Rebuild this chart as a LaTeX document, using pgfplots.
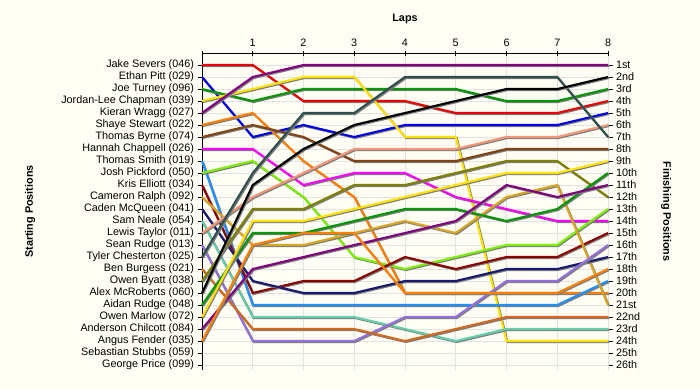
\documentclass[border=0pt]{standalone}
\usepackage{pgfplots}
\pgfplotsset{compat=1.18}
\usepackage{pgfplotstable}
\usepackage{fontspec}
\setmainfont{Liberation Sans}
\definecolor{bg}{RGB}{255,254,244}
\definecolor{gridc}{RGB}{226,226,226}
\definecolor{shadowc}{RGB}{125,125,125}
\definecolor{c1}{RGB}{235,0,0}
\definecolor{c2}{RGB}{0,0,230}
\definecolor{c3}{RGB}{0,150,0}
\definecolor{c4}{RGB}{255,226,0}
\definecolor{c5}{RGB}{128,0,128}
\definecolor{c6}{RGB}{255,128,0}
\definecolor{c7}{RGB}{130,66,18}
\definecolor{c8}{RGB}{255,0,255}
\definecolor{c9}{RGB}{30,144,255}
\definecolor{c10}{RGB}{124,240,0}
\definecolor{c11}{RGB}{139,0,0}
\definecolor{c12}{RGB}{218,165,32}
\definecolor{c13}{RGB}{25,25,112}
\definecolor{c14}{RGB}{102,205,170}
\definecolor{c15}{RGB}{245,150,120}
\definecolor{c16}{RGB}{147,112,219}
\definecolor{c17}{RGB}{47,79,79}
\definecolor{c18}{RGB}{210,105,30}
\definecolor{c19}{RGB}{128,128,0}
\definecolor{c20}{RGB}{0,0,0}

\pgfplotstableread{
lap r1 r2 r3 r4 r5 r6 r7 r8 r9 r10 r11 r12 r13 r14 r15 r16 r17 r18 r19 r20 r21 r22 r23 r24
0 1 2 3 4 5 6 7 8 9 10 11 12 13 14 15 16 17 18 19 20 21 22 23 24
1 1 7 4 3 2 5 6 8 21 9 20 16 19 22 12 24 10 23 13 11 15 14 18 16
2 4 6 3 2 1 9 7 11 21 12 19 16 20 22 10 24 5 23 13 8 15 14 17 15
3 4 7 3 2 1 12 9 10 21 17 19 15 20 22 8 24 5 23 11 6 14 13 16 15
4 4 6 3 7 1 20 9 10 21 18 17 14 19 23 8 22 2 24 11 5 13 12 15 20
5 5 6 3 7 1 20 9 12 21 17 18 15 19 24 8 22 2 23 10 4 13 11 14 20
6 5 6 4 24 1 20 8 13 21 16 17 12 18 23 7 19 2 22 9 3 14 10 11 20
7 5 6 4 24 1 20 8 14 21 16 17 11 18 23 7 19 2 22 9 3 13 10 12 20
8 4 5 3 24 1 20 8 14 19 13 15 21 17 23 6 16 7 22 12 2 10 9 11 18
}\laps

\newcommand{\rider}[2]{%
  \addplot[shadowc, line width=2.1pt, xshift=1pt, yshift=-1pt] table[x=lap,y=#1]{\laps};
  \addplot[#2, line width=2.1pt] table[x=lap,y=#1]{\laps};
}

\newcommand{\lblfont}{\fontsize{10.8}{12}\selectfont\bfseries}

\pgfplotsset{
  lapbase/.style={
    scale only axis, width=406pt, height=316.8pt,
    xmin=0, xmax=8, ymin=0, ymax=26.4, y dir=reverse,
    at={(202pt,-53pt)}, anchor=north west,
    tick label style={font=\fontsize{10.8}{12}\selectfont, black},
    major tick length=4.5pt, tick style={black, line width=0.8pt},
    axis line style={black, line width=0.9pt},
    clip=false,
  }
}

\begin{document}
\begin{tikzpicture}
\path[use as bounding box, fill=bg] (0,0) rectangle (700pt,-390pt);
% right axis with finishing positions
\begin{axis}[lapbase,
  axis x line=none, axis y line*=right, tick align=outside,
  ytick={1,...,26},
  yticklabels={1st,2nd,3rd,4th,5th,6th,7th,8th,9th,10th,11th,12th,13th,14th,15th,16th,17th,18th,19th,20th,21st,22nd,23rd,24th,25th,26th},
  ylabel={Finishing Positions},
  every axis y label/.style={at={(axis description cs:1.143,0.5)}, rotate=-90, anchor=center, font=\lblfont},
]
\addplot[draw=none] coordinates {(0,1)};
\end{axis}
% main axis
\begin{axis}[lapbase,
  axis x line*=top, axis y line*=left, tick align=outside,
  xtick={0,...,8}, xticklabels={,1,2,3,4,5,6,7,8},
  x tick style={yshift=-2.5pt},
  x tick label style={yshift=-2pt},
  ytick={1,...,26},
  yticklabels={Jake Severs (046),Ethan Pitt (029),Joe Turney (096),Jordan-Lee Chapman (039),Kieran Wragg (027),Shaye Stewart (022),Thomas Byrne (074),Hannah Chappell (026),Thomas Smith (019),Josh Pickford (050),Kris Elliott (034),Cameron Ralph (092),Caden McQueen (041),Sam Neale (054),Lewis Taylor (011),Sean Rudge (013),Tyler Chesterton (025),Ben Burgess (021),Owen Byatt (038),Alex McRoberts (060),Aidan Rudge (048),Owen Marlow (072),Anderson Chilcott (084),Angus Fender (035),Sebastian Stubbs (059),George Price (099)},
  grid=major, major grid style={gridc, line width=0.8pt},
  xlabel={Laps},
  every axis x label/.style={at={(axis description cs:0.5,1.107)}, anchor=center, font=\lblfont},
  ylabel={Starting Positions},
  every axis y label/.style={at={(axis description cs:-0.4236,0.5)}, rotate=90, anchor=center, font=\lblfont},
]
\rider{r1}{c1}
\rider{r2}{c2}
\rider{r3}{c3}
\rider{r4}{c4}
\rider{r5}{c5}
\rider{r6}{c6}
\rider{r7}{c7}
\rider{r8}{c8}
\rider{r9}{c9}
\rider{r10}{c10}
\rider{r11}{c11}
\rider{r12}{c12}
\rider{r13}{c13}
\rider{r14}{c14}
\rider{r15}{c15}
\rider{r16}{c16}
\rider{r17}{c17}
\rider{r18}{c18}
\rider{r19}{c19}
\rider{r20}{c20}
\rider{r21}{c3}
\rider{r22}{c4}
\rider{r23}{c5}
\rider{r24}{c6}
\end{axis}
\end{tikzpicture}
\end{document}
